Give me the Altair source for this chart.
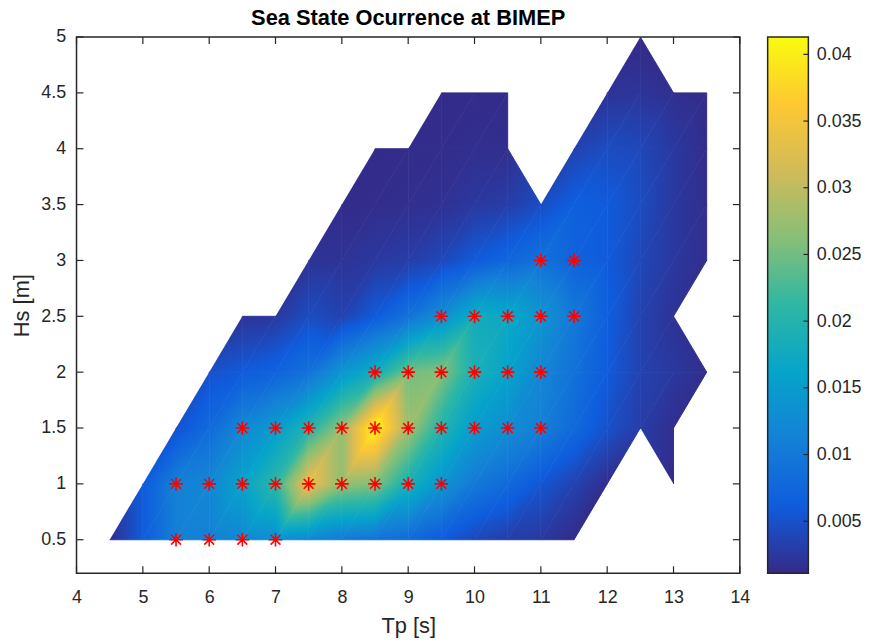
import altair as alt
import pandas as pd

# Rejilla de estados de mar (Tp en s, Hs en m)
tp_values = [4.5, 5.0, 5.5, 6.0, 6.5, 7.0, 7.5, 8.0, 8.5, 9.0, 9.5,
             10.0, 10.5, 11.0, 11.5, 12.0, 12.5, 13.0, 13.5]
hs_values = [0.5, 1.0, 1.5, 2.0, 2.5, 3.0, 3.5, 4.0, 4.5, 5.0]

N = None
# Probabilidad de ocurrencia, una fila por Hs, columnas segun tp_values
occ_hs05 = [0.0015, 0.0060, 0.0110, 0.0110, 0.0120, 0.0130, 0.0120, 0.0100, 0.0090, 0.0080,
            0.0060, 0.0040, 0.0030, 0.0025, 0.0012, N, N, N, N]
occ_hs10 = [N, 0.0060, 0.0110, 0.0120, 0.0160, 0.0210, 0.0340, 0.0270, 0.0260, 0.0190,
            0.0140, 0.0100, 0.0080, 0.0055, 0.0035, 0.0015, N, 0.0012, N]
occ_hs15 = [N, N, 0.0050, 0.0080, 0.0120, 0.0150, 0.0200, 0.0270, 0.0413, 0.0280,
            0.0200, 0.0150, 0.0130, 0.0110, 0.0080, 0.0050, 0.0030, 0.0015, N]
occ_hs20 = [N, N, N, 0.0050, 0.0060, 0.0070, 0.0090, 0.0140, 0.0180, 0.0250,
            0.0260, 0.0190, 0.0160, 0.0120, 0.0090, 0.0060, 0.0035, 0.0025, 0.0015]
occ_hs25 = [N, N, N, N, 0.0020, 0.0025, 0.0045, 0.0035, 0.0060, 0.0090,
            0.0130, 0.0180, 0.0170, 0.0140, 0.0100, 0.0065, 0.0035, 0.0020, N]
occ_hs30 = [N, N, N, N, N, N, 0.0020, 0.0020, 0.0025, 0.0030,
            0.0040, 0.0060, 0.0075, 0.0090, 0.0070, 0.0060, 0.0040, 0.0025, 0.0015]
occ_hs35 = [N, N, N, N, N, N, N, 0.0013, 0.0014, 0.0016,
            0.0018, 0.0025, 0.0030, 0.0045, 0.0065, 0.0060, 0.0045, 0.0025, 0.0015]
occ_hs40 = [N, N, N, N, N, N, N, N, 0.0012, 0.0013,
            0.0014, 0.0016, 0.0015, N, 0.0035, 0.0045, 0.0040, 0.0025, 0.0014]
occ_hs45 = [N, N, N, N, N, N, N, N, N, N,
            0.0012, 0.0013, 0.0012, N, N, 0.0020, 0.0022, 0.0016, 0.0012]
occ_hs50 = [N, N, N, N, N, N, N, N, N, N,
            N, N, N, N, N, N, 0.0011, N, N]
occ_rows = [occ_hs05, occ_hs10, occ_hs15, occ_hs20, occ_hs25,
            occ_hs30, occ_hs35, occ_hs40, occ_hs45, occ_hs50]

# Estados de mar seleccionados (asteriscos rojos)
sel_tp = [5.5, 6, 6.5, 7,
          5.5, 6, 6.5, 7, 7.5, 8, 8.5, 9, 9.5,
          6.5, 7, 7.5, 8, 8.5, 9, 9.5, 10, 10.5, 11,
          8.5, 9, 9.5, 10, 10.5, 11,
          9.5, 10, 10.5, 11, 11.5,
          11, 11.5]
sel_hs = [0.5] * 4 + [1.0] * 9 + [1.5] * 10 + [2.0] * 6 + [2.5] * 5 + [3.0] * 2

x_ticks = [4, 5, 6, 7, 8, 9, 10, 11, 12, 13, 14]
y_ticks = [0.5, 1, 1.5, 2, 2.5, 3, 3.5, 4, 4.5, 5]
cbar_ticks = [0.005, 0.01, 0.015, 0.02, 0.025, 0.03, 0.035, 0.04]

# Colormap parula
parula = ['#352a87', '#0f5cdd', '#1481d6', '#06a4ca', '#2eb7a4',
          '#87bf77', '#d1bb59', '#fec832', '#f9fb0e']
vmin, vmax = 0.0011, 0.0413
stop_vals = [vmin + k * (vmax - vmin) / 8 for k in range(9)]
stop_rgb = [tuple(int(c[i:i + 2], 16) for i in (1, 3, 5)) for c in parula]


def color_at(v):
    t = min(max((v - vmin) / (vmax - vmin) * 8, 0), 8)
    k = min(int(t), 7)
    f = t - k
    c = [round(a + (b - a) * f) for a, b in zip(stop_rgb[k], stop_rgb[k + 1])]
    return '#%02x%02x%02x' % tuple(c)


def relleno(tri):
    # degradado lineal dentro del triangulo (coordenadas de su caja)
    vs = [p[2] for p in tri]
    lo, hi = min(vs), max(vs)
    if hi - lo < 1e-9:
        return color_at(lo)
    x0, x1 = min(p[0] for p in tri), max(p[0] for p in tri)
    y0, y1 = min(p[1] for p in tri), max(p[1] for p in tri)
    uv = [((x - x0) / (x1 - x0), (y1 - y) / (y1 - y0)) for x, y, _ in tri]
    (u1, w1), (u2, w2), (u3, w3) = uv
    det = (u2 - u1) * (w3 - w1) - (u3 - u1) * (w2 - w1)
    A = ((vs[1] - vs[0]) * (w3 - w1) - (vs[2] - vs[0]) * (w2 - w1)) / det
    B = ((u2 - u1) * (vs[2] - vs[0]) - (u3 - u1) * (vs[1] - vs[0])) / det
    s = (hi - lo) / (A * A + B * B)
    pu, pw = uv[vs.index(lo)]
    stops = [{'offset': 0, 'color': color_at(lo)}]
    for sv in stop_vals:
        if lo < sv < hi:
            stops.append({'offset': (sv - lo) / (hi - lo), 'color': color_at(sv)})
    stops.append({'offset': 1, 'color': color_at(hi)})
    return {'gradient': 'linear', 'x1': pu, 'y1': pw,
            'x2': pu + A * s, 'y2': pw + B * s, 'stops': stops}


# Triangulacion de la rejilla (celdas completas en dos triangulos)
rows = []
pid = 0
for j in range(len(hs_values) - 1):
    for i in range(len(tp_values) - 1):
        esquinas = [(i, j), (i + 1, j), (i + 1, j + 1), (i, j + 1)]
        celda = [(tp_values[a], hs_values[b], occ_rows[b][a])
                 for a, b in esquinas if occ_rows[b][a] is not None]
        if len(celda) < 3:
            continue
        if len(celda) == 4:
            tris = [[celda[0], celda[1], celda[2]], [celda[0], celda[2], celda[3]]]
        else:
            tris = [celda]
        for tri in tris:
            g = relleno(tri)
            for o, (x, y, v) in enumerate(tri):
                rows.append({'pid': pid, 'o': o, 'Tp': x, 'Hs': y, 'g': g})
            pid += 1

sel_df = pd.DataFrame({'Tp': sel_tp, 'Hs': sel_hs})
xt_df = pd.DataFrame({'Tp': x_ticks})
yt_df = pd.DataFrame({'Hs': y_ticks})
cb_df = pd.DataFrame({'lo': [vmin], 'hi': [vmax]})
cbt_df = pd.DataFrame({'lo': cbar_ticks})

W, H = 668, 540
font = 'Liberation Sans'
txt = '#262626'

xs = alt.Scale(domain=[4, 14], nice=False, zero=False)
ys = alt.Scale(domain=[0.2, 5], nice=False, zero=False)
cbs = alt.Scale(domain=[vmin, vmax], nice=False, zero=False)

x_axis = alt.Axis(values=x_ticks, format='~g', ticks=False, domain=False, grid=False,
                  labelFlush=False, labelPadding=15, titlePadding=10)
y_axis = alt.Axis(values=y_ticks, format='~g', ticks=False, domain=False, grid=False,
                  labelFlush=False, labelPadding=11, titlePadding=7)
cb_axis = alt.Axis(orient='right', values=cbar_ticks, format='~g', ticks=False, domain=False,
                   grid=False, labelFlush=False, labelPadding=8, offset=69, title=None)

X = alt.X('Tp:Q', scale=xs, axis=x_axis, title='Tp [s]')
Y = alt.Y('Hs:Q', scale=ys, axis=y_axis, title='Hs [m]')

contorno = alt.Chart(alt.Data(values=rows)).mark_line(
    strokeWidth=1, interpolate='linear', strokeJoin='miter'
).encode(
    x=X, y=Y,
    order='o:Q',
    detail='pid:N',
    fill=alt.Fill('g:N', scale=None),
    stroke=alt.Stroke('g:N', scale=None),
)

asteriscos = alt.Chart(sel_df).mark_point(
    shape='M-1,0L1,0M0,-1L0,1M-0.72,-0.72L0.72,0.72M-0.72,0.72L0.72,-0.72',
    filled=False, color='#ff0000', size=190, strokeWidth=1.6, opacity=1
).encode(x=X, y=Y)

tick_len = 7
tick_style = dict(color=txt, strokeWidth=1.2)
xt_bottom = alt.Chart(xt_df).mark_rule(**tick_style).encode(
    x=X, y=alt.value(H), y2=alt.value(H - tick_len))
xt_top = alt.Chart(xt_df).mark_rule(**tick_style).encode(
    x=X, y=alt.value(0), y2=alt.value(tick_len))
yt_left = alt.Chart(yt_df).mark_rule(**tick_style).encode(
    y=Y, x=alt.value(0), x2=alt.value(tick_len))
yt_right = alt.Chart(yt_df).mark_rule(**tick_style).encode(
    y=Y, x=alt.value(W), x2=alt.value(W - tick_len))

principal = alt.layer(contorno, asteriscos, xt_bottom, xt_top, yt_left, yt_right)

# Barra de color a la derecha del grafico
grad = alt.LinearGradient(
    gradient='linear', x1=0, x2=0, y1=1, y2=0,
    stops=[alt.GradientStop(color=c, offset=k / (len(parula) - 1)) for k, c in enumerate(parula)])
CB = alt.Y('lo:Q', scale=cbs, axis=cb_axis, title=None)
barra = alt.Chart(cb_df).mark_rect(fill=grad, stroke=txt, strokeWidth=1.5).encode(
    y=CB, y2='hi:Q', x=alt.value(W + 28), x2=alt.value(W + 69))
barra_ticks = alt.Chart(cbt_df).mark_rule(**tick_style).encode(
    y=CB, x=alt.value(W + 69), x2=alt.value(W + 64))
colorbar = alt.layer(barra, barra_ticks)

chart = alt.layer(principal, colorbar).resolve_scale(y='independent').properties(
    width=W, height=H,
    title=alt.Title('Sea State Ocurrence at BIMEP', fontSize=22, fontWeight='bold',
                    font=font, color='#000000', anchor='middle', frame='group', offset=-2),
    autosize=alt.AutoSizeParams(type='none'),
    padding={'left': 69, 'top': 27, 'right': 122, 'bottom': 66},
    background='white',
).configure_view(
    stroke=txt, strokeWidth=1.5
).configure_axis(
    labelFont=font, labelFontSize=18, labelColor=txt,
    titleFont=font, titleFontSize=22, titleFontWeight='normal', titleColor=txt,
)

chart.save('out.html', embed_options={'renderer': 'svg', 'actions': False})
